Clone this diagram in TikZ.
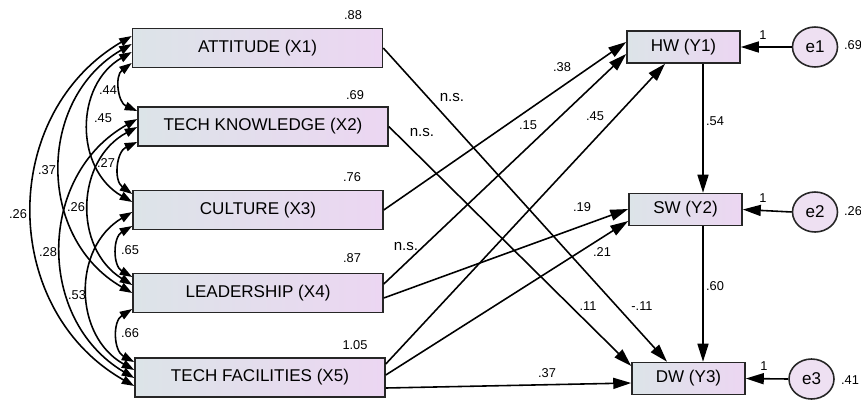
\documentclass[tikz,border=0pt]{standalone}
\usepackage{fontspec}
\setmainfont{Liberation Sans}
\usetikzlibrary{arrows.meta,shapes.geometric,calc}

\definecolor{boxL}{HTML}{DCE4E8}
\definecolor{boxR}{HTML}{ECD6F2}
\definecolor{errfill}{HTML}{EEE0F2}

\begin{document}
\begin{tikzpicture}[
  x=0.02cm, y=0.02cm,
  xbox/.style={draw=black!85, line width=0.9pt, left color=boxL, right color=boxR,
               minimum width=5cm, minimum height=0.78cm, inner sep=0pt,
               font=\fontsize{9.7}{11}\selectfont},
  ybox/.style={draw=black!85, line width=0.9pt, left color=boxL, right color=boxR,
               minimum width=2.26cm, minimum height=0.64cm, inner sep=0pt,
               font=\fontsize{9.7}{11}\selectfont},
  errnode/.style={ellipse, draw=black!85, line width=0.9pt, fill=errfill,
               minimum width=0.9cm, minimum height=0.8cm, inner sep=0pt,
               font=\fontsize{9.7}{11}\selectfont},
  path/.style={line width=0.9pt, -{Triangle[length=0.36cm,width=0.22cm]}},
  cov/.style={line width=0.9pt,
              {Triangle[length=0.25cm,width=0.17cm]}-{Triangle[length=0.25cm,width=0.17cm]},
              bend right=60, looseness=1.13},
  lab/.style={inner sep=0pt, font=\fontsize{7.3}{8}\selectfont},
  ns/.style={inner sep=0pt, font=\fontsize{8.6}{10}\selectfont}
]
\useasboundingbox (0,0) rectangle (861,-399);

% exogenous variables
\node[xbox] (X1) at (257.5,-48)   {ATTITUDE (X1)};
\node[xbox] (X2) at (263,-126.5)  {TECH KNOWLEDGE (X2)};
\node[xbox] (X3) at (258,-210)    {CULTURE (X3)};
\node[xbox] (X4) at (258,-293)    {LEADERSHIP (X4)};
\node[xbox] (X5) at (260,-377.5)  {TECH FACILITIES (X5)};

% endogenous variables
\node[ybox] (HW) at (683.5,-47)   {HW (Y1)};
\node[ybox] (SW) at (685.5,-209.5){SW (Y2)};
\node[ybox] (DW) at (688.5,-378.5){DW (Y3)};

% error terms
\node[errnode] (e1) at (815,-47)   {e1};
\node[errnode] (e2) at (815,-212)  {e2};
\node[errnode] (e3) at (811.5,-379){e3};

% variances
\node[lab] (v1) at (353,-15)  {.88};
\node[lab] (v2) at (355,-95)  {.69};
\node[lab] (v3) at (352,-177) {.76};
\node[lab] (v4) at (352,-258) {.87};
\node[lab] (v5) at (355,-345) {1.05};
\node[lab] (ve1) at (853,-45)  {.69};
\node[lab] (ve2) at (853,-211) {.26};
\node[lab] (ve3) at (850,-380) {.41};

% error paths
\draw[path] (e1.west) -- (HW.east);
\draw[path] (e2.west) -- (SW.east);
\draw[path] (e3.west) -- (DW.east);
\node[lab] (w1) at (763,-35)  {1};
\node[lab] (w2) at (763,-198) {1};
\node[lab] (w3) at (764,-366) {1};

% structural paths
\draw[path] (X1.east) -- (DW.north -| 667,0);
\draw[path] (X2.east) -- (DW.west |- 0,-366);
\draw[path] (X3.east) -- (HW.west |- 0,-42);
\draw[path] (X4.east |- 0,-284) -- (HW.west |- 0,-54);
\draw[path] (X5.east |- 0,-364) -- (HW.south -| 665,0);
\draw[path] (X4.east |- 0,-298) -- (SW.west |- 0,-209);
\draw[path] (X5.east |- 0,-375) -- (SW.west |- 0,-221);
\draw[path] (X5.east |- 0,-388) -- (DW.west |- 0,-383);
\draw[path] (HW.south -| 703,0) -- (SW.north -| 703,0);
\draw[path] (SW.south -| 703,0) -- (DW.north -| 703,0);

% path coefficients
\node[ns]  (p1) at (452,-98)  {n.s.};
\node[ns]  (p2) at (422,-133) {n.s.};
\node[lab] (p3) at (562,-67)  {.38};
\node[lab] (p4) at (528,-125) {.15};
\node[lab] (p5) at (595,-116) {.45};
\node[lab] (p6) at (582,-207) {.19};
\node[ns]  (p7) at (406,-247) {n.s.};
\node[lab] (p8) at (602,-252) {.21};
\node[lab] (p9) at (588,-306) {.11};
\node[lab] (p10) at (642,-306) {-.11};
\node[lab] (p11) at (547,-373) {.37};
\node[lab] (p12) at (715,-121) {.54};
\node[lab] (p13) at (715,-286) {.60};

% covariances among exogenous variables
\draw[cov] (X1.west |- 0,-63)  to (X2.west |- 0,-111);
\draw[cov] (X1.west |- 0,-52)  to (X3.west |- 0,-202);
\draw[cov] (X1.west |- 0,-44)  to (X4.west |- 0,-293);
\draw[cov] (X1.west |- 0,-36)  to (X5.west |- 0,-386);
\draw[cov] (X2.west |- 0,-142) to (X3.west |- 0,-194);
\draw[cov] (X2.west |- 0,-127) to (X4.west |- 0,-285);
\draw[cov] (X2.west |- 0,-119) to (X5.west |- 0,-378);
\draw[cov] (X3.west |- 0,-226) to (X4.west |- 0,-277);
\draw[cov] (X3.west |- 0,-212) to (X5.west |- 0,-370);
\draw[cov] (X4.west |- 0,-309) to (X5.west |- 0,-362);

\node[lab] (c12) at (108,-90)  {.44};
\node[lab] (c13) at (103,-118) {.45};
\node[lab] (c14) at (47,-170)  {.37};
\node[lab] (c15) at (18,-214)  {.26};
\node[lab] (c23) at (106,-163) {.27};
\node[lab] (c24) at (76,-207)  {.26};
\node[lab] (c25) at (48,-252)  {.28};
\node[lab] (c34) at (130,-250) {.65};
\node[lab] (c35) at (77,-295)  {.53};
\node[lab] (c45) at (130,-333) {.66};
\end{tikzpicture}
\end{document}
